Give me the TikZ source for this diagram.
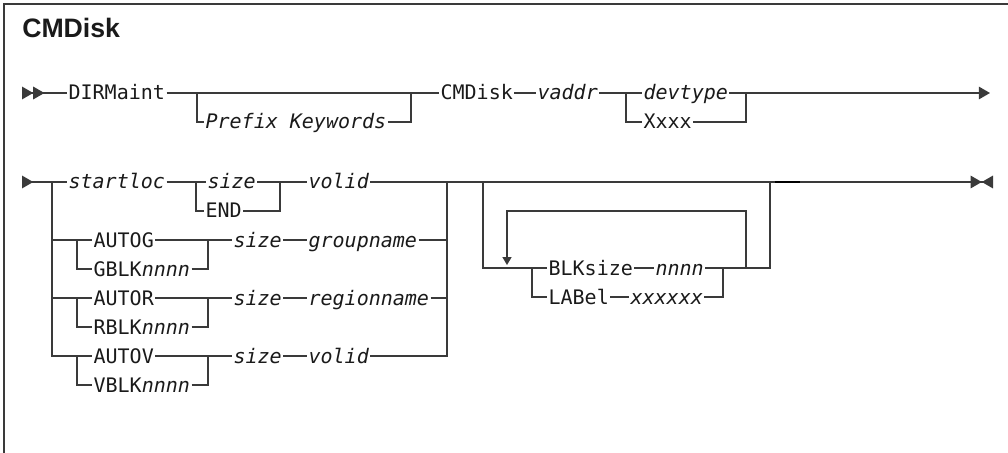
\documentclass[tikz,border=0pt]{standalone}
\usepackage{fontspec}
\usepackage{tikz}
\usetikzlibrary{arrows.meta, calc}
\newfontfamily\railfont{DejaVu Sans Mono}
\newfontfamily\headfont{Liberation Sans}
\definecolor{rail}{HTML}{3A3A3A}
\definecolor{ink}{HTML}{1A1A1A}
\tikzset{
  line/.style={draw=rail, line width=1.1pt},
  frame/.style={draw=rail, line width=1.5pt},
  kw/.style={anchor=west, inner xsep=1pt, inner ysep=0pt, text height=10.5pt, text depth=0pt,
    text=ink, font=\railfont\fontsize{15pt}{18pt}\selectfont},
  var/.style={kw, font=\railfont\fontsize{15pt}{18pt}\selectfont\itshape},
  title/.style={anchor=base west, inner sep=0pt, text=ink, font=\headfont\bfseries\fontsize{20pt}{23pt}\selectfont},
  railtip/.tip={Triangle[length=8.4pt, width=9.4pt, sep=0pt]},
  railtipr/.tip={Triangle[reversed, length=8.4pt, width=9.4pt, sep=0pt]},
  looptip/.tip={Triangle[length=6pt, width=6.8pt]},
}

\begin{document}
\begin{tikzpicture}[x=0.75pt, y=-0.75pt]
\useasboundingbox (0,0) rectangle (1008,453);
\draw[frame] (4,453) -- (4,4) -- (1008,4);
\node[title] (title) at (22,38) {CMDisk};

% first line
\node[kw]  (dirm)    at (67,93)   {DIRMaint};
\node[var] (pfx)     at (204,122) {Prefix Keywords};
\node[kw]  (cmd)     at (439,93)  {CMDisk};
\node[var] (vaddr)   at (536,93)  {vaddr};
\node[var] (devtype) at (642,93)  {devtype};
\node[kw]  (xxxx)    at (642,122) {Xxxx};
\coordinate (row1start) at (22,93);
\coordinate (row1end) at (990,93);
\coordinate (pfxin) at (197,93);
\coordinate (pfxout) at (411,93);
\coordinate (devin) at (626,93);
\coordinate (devout) at (746,93);

\draw[line, {railtipr[]railtipr[]}-] (row1start) -- (dirm.west);
\draw[line] (dirm.east) -- (cmd.west);
\draw[line] (pfxin) |- (pfx.west);
\draw[line] (pfx.east) -| (pfxout);
\draw[line] (cmd.east) -- (vaddr.west);
\draw[line] (vaddr.east) -- (devtype.west);
\draw[line] (devin) |- (xxxx.west);
\draw[line] (xxxx.east) -| (devout);
\draw[line, -{railtip[]}] (devtype.east) -- (row1end);

% second line
\node[var] (startloc) at (67,182)  {startloc};
\node[var] (size)     at (206,182) {size};
\node[kw]  (endkw)    at (204,211) {END};
\node[var] (volid)    at (307,182) {volid};
\node[kw]  (autog)    at (92,240)  {AUTOG};
\node[kw]  (gblk)     at (92,269)  {GBLK{\itshape nnnn}};
\node[var] (sizeg)    at (232,240) {size};
\node[var] (group)    at (307,240) {groupname};
\node[kw]  (autor)    at (92,298)  {AUTOR};
\node[kw]  (rblk)     at (92,327)  {RBLK{\itshape nnnn}};
\node[var] (sizer)    at (232,298) {size};
\node[var] (region)   at (307,298) {regionname};
\node[kw]  (autov)    at (92,356)  {AUTOV};
\node[kw]  (vblk)     at (92,385)  {VBLK{\itshape nnnn}};
\node[var] (sizev)    at (232,356) {size};
\node[var] (volidv)   at (307,356) {volid};
\node[kw]  (blk)      at (547,268) {BLKsize};
\node[var] (nnnn)     at (654,268) {nnnn};
\node[kw]  (label)    at (547,297) {LABel};
\node[var] (xx)       at (629,297) {xxxxxx};
\coordinate (row2start) at (22,182);
\coordinate (row2end) at (993,182);
\coordinate (fork) at (52,182);
\coordinate (join) at (447,182);
\coordinate (optin) at (483,182);
\coordinate (optout) at (770,182);
\coordinate (optjoin) at (723,268);
\coordinate (reploop) at (746,268);
\coordinate (repend) at (507,265);

\draw[line, {railtipr[]}-] (row2start) -- (startloc.west);
\draw[line] (fork) |- (autov.west);
\draw[line] (startloc.east) -- (size.west);
\draw[line] ($(size.west)+(-10,0)$) |- (endkw.west);
\draw[line] (endkw.east) -| ($(volid.west)+(-27,0)$);
\draw[line] (size.east) -- (volid.west);
\draw[line, -{railtip[]railtipr[]}] (volid.east) -- (row2end);

\draw[line] (fork |- autog.west) -- (autog.west);
\draw[line] ($(autog.west)+(-15,0)$) |- (gblk.west);
\draw[line] (gblk.east) -| ($(sizeg.west)+(-24,0)$);
\draw[line] (autog.east) -- (sizeg.west);
\draw[line] (sizeg.east) -- (group.west);
\draw[line] (group.east) -- (join |- group.west);

\draw[line] (fork |- autor.west) -- (autor.west);
\draw[line] ($(autor.west)+(-15,0)$) |- (rblk.west);
\draw[line] (rblk.east) -| ($(sizer.west)+(-24,0)$);
\draw[line] (autor.east) -- (sizer.west);
\draw[line] (sizer.east) -- (region.west);
\draw[line] (region.east) -- (join |- region.west);

\draw[line] ($(autov.west)+(-15,0)$) |- (vblk.west);
\draw[line] (vblk.east) -| ($(sizev.west)+(-24,0)$);
\draw[line] (autov.east) -- (sizev.west);
\draw[line] (sizev.east) -- (volidv.west);
\draw[line] (volidv.east) -| (join);

\draw[line] (optin) |- (blk.west);
\draw[line] ($(blk.west)+(-15,0)$) |- (label.west);
\draw[line] (blk.east) -- (nnnn.west);
\draw[line] (label.east) -- (xx.west);
\draw[line] (nnnn.east) -| (optout);
\draw[line] (xx.east) -| (optjoin);
\draw[line, -{looptip[]}] (reploop) -- ++(0,-57) -| (repend);
\draw[line, draw=black, line width=1.6pt] ($(optout)+(5,0)$) -- ++(25,0);
\end{tikzpicture}
\end{document}
